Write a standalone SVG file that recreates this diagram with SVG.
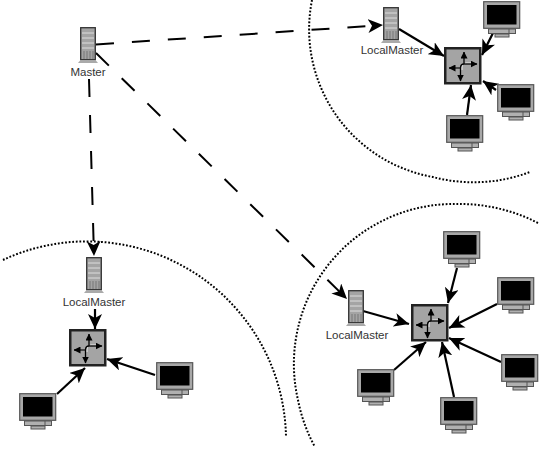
<svg xmlns="http://www.w3.org/2000/svg" width="540" height="449" viewBox="0 0 540 449">
<style>
text{font-family:"Liberation Sans",Arial,sans-serif;font-size:11.5px;fill:#333;text-anchor:middle}
.s{fill:none;stroke:#000;stroke-width:2.2}
.d{fill:none;stroke:#000;stroke-width:2;stroke-dasharray:18 18}
.z{fill:none;stroke:#000;stroke-width:2;stroke-dasharray:1.8 1.8}
</style>
<defs>
<marker id="a" markerUnits="userSpaceOnUse" markerWidth="16" markerHeight="14" refX="15" refY="7" orient="auto"><path d="M0 0L15 7L0 14L4 7Z" fill="#000"/></marker>
<marker id="t" markerUnits="userSpaceOnUse" markerWidth="7" markerHeight="7" refX="6.500" refY="3.500" orient="auto"><path d="M0 0L7 3.500L0 7Z" fill="#000"/></marker>
<g id="mon">
<rect x="0.7" y="0.7" width="36" height="26.6" fill="#a8a8a8" stroke="#555" stroke-width="1.2"/>
<rect x="4" y="4" width="29.500" height="19.500" fill="#000"/>
<rect x="5.500" y="28" width="27" height="4.500" fill="#b0b0b0" stroke="#555"/>
<path d="M26 28V32.500" stroke="#555"/>
<rect x="12" y="33" width="14" height="3" fill="#b0b0b0" stroke="#555"/>
</g>
<g id="srv">
<rect x="0.7" y="0.7" width="14.600" height="32" fill="#a4a4a4" stroke="#333" stroke-width="1.3"/>
<path d="M2 6H14M2 11H14M2 16H14M2 21H14" stroke="#ddd"/>
<path d="M4 24V32M7 24V32M10 24V32M13 24V32" stroke="#777"/>
<path d="M-2 36L0.500 33H15.500L18 36Z" fill="#aaa"/>
</g>
<g id="sw">
<rect x="1.250" y="1.250" width="35" height="35" fill="#a4a4a4" stroke="#222" stroke-width="2.500"/>
<path d="M18 23V20Q18 16 22 16H30M16 21H9" fill="none" stroke="#eee" stroke-width="1"/>
<g fill="none" stroke="#000" stroke-width="1.300" marker-end="url(#t)">
<path d="M20 17V5"/><path d="M20 17H33"/><path d="M17 21H5"/><path d="M16.500 21V34"/>
</g>
<path d="M16.500 21Q16.500 17 20 17" fill="none" stroke="#000" stroke-width="1.300"/>
</g>
</defs>
<g id="connectors">
<path class="z" d="M312 0A150 150 0 0 0 433 177A160 160 0 0 0 530 172"/>
<path class="z" d="M538 223A170 170 0 0 0 458 204A160 160 0 0 0 298 400A160 160 0 0 0 315 447"/>
<path class="z" d="M3 260A199 199 0 0 1 286 437"/>
<path class="d" marker-end="url(#a)" d="M96 44.500L383 25"/>
<path class="d" marker-end="url(#a)" d="M89 79L94 256"/>
<path class="d" marker-end="url(#a)" d="M96 53L347 299"/>
<path class="s" marker-end="url(#a)" d="M399 29L444 56"/>
<path class="s" marker-end="url(#a)" d="M493 33L482 55"/>
<path class="s" marker-end="url(#a)" d="M496 90L483 81"/>
<path class="s" marker-end="url(#a)" d="M467 115L471 85"/>
<path class="s" marker-end="url(#a)" d="M95 309V329"/>
<path class="s" marker-end="url(#a)" d="M57 394L85 368"/>
<path class="s" marker-end="url(#a)" d="M155 375L107 359"/>
<path class="s" marker-end="url(#a)" d="M363 311L409 324"/>
<path class="s" marker-end="url(#a)" d="M457 268L448 303"/>
<path class="s" marker-end="url(#a)" d="M497 304L449 328"/>
<path class="s" marker-end="url(#a)" d="M501 362L449 338"/>
<path class="s" marker-end="url(#a)" d="M454 397L442 342"/>
<path class="s" marker-end="url(#a)" d="M394 370L426 342"/>
</g>
<g id="master"><use href="#srv" x="80" y="27"/><text x="88" y="76">Master</text></g>
<g id="localmaster-1"><use href="#srv" x="383" y="7"/><text x="392" y="54">LocalMaster</text></g>
<g id="localmaster-2"><use href="#srv" x="86" y="257"/><text x="94" y="306">LocalMaster</text></g>
<g id="localmaster-3"><use href="#srv" x="348" y="290"/><text x="357" y="339">LocalMaster</text></g>
<g id="switch-1"><use href="#sw" x="444" y="47"/></g>
<g id="switch-2"><use href="#sw" x="69" y="329"/></g>
<g id="switch-3"><use href="#sw" x="411" y="304"/></g>
<g id="pc-1"><use href="#mon" x="483" y="1"/></g>
<g id="pc-2"><use href="#mon" x="497" y="84"/></g>
<g id="pc-3"><use href="#mon" x="446" y="115"/></g>
<g id="pc-4"><use href="#mon" x="19" y="393"/></g>
<g id="pc-5"><use href="#mon" x="156" y="362"/></g>
<g id="pc-6"><use href="#mon" x="443" y="231"/></g>
<g id="pc-7"><use href="#mon" x="497" y="277"/></g>
<g id="pc-8"><use href="#mon" x="501" y="354"/></g>
<g id="pc-9"><use href="#mon" x="440" y="397"/></g>
<g id="pc-10"><use href="#mon" x="357" y="369"/></g>
</svg>
